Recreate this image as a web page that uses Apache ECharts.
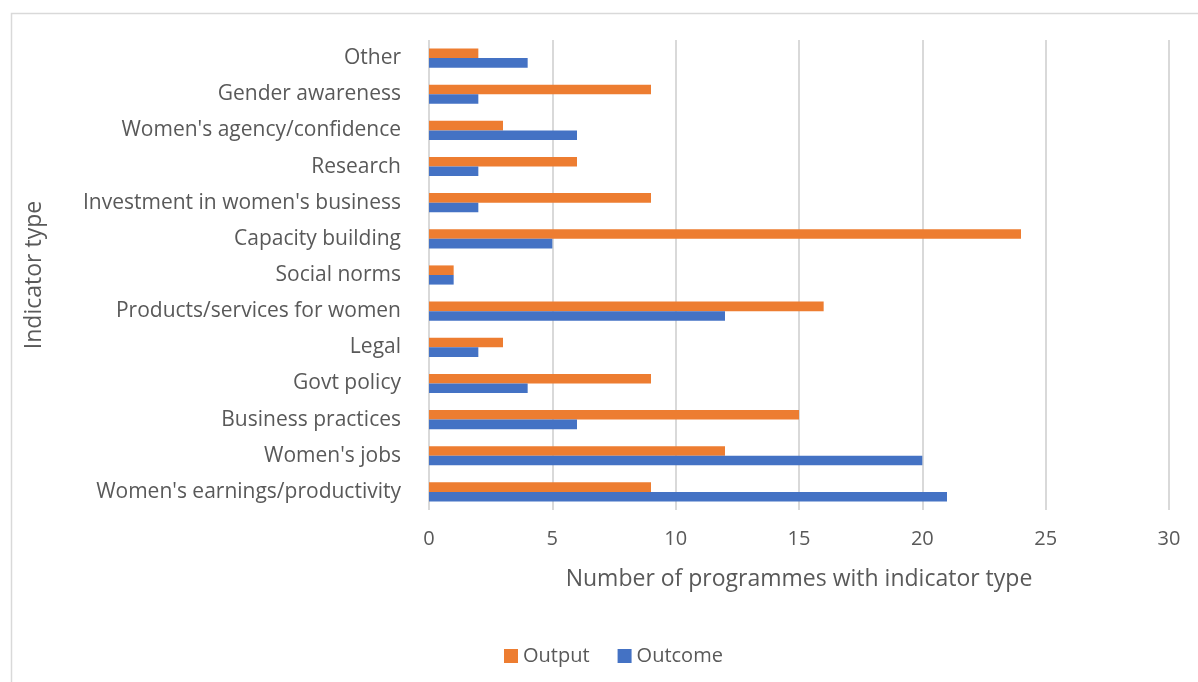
<!DOCTYPE html>
<html>
<head>
<meta charset="utf-8">
<script src="https://cdn.jsdelivr.net/npm/echarts@6/dist/echarts.min.js"></script>
<style>
  html, body { margin: 0; padding: 0; background: #fff; }
  #chart { width: 1198px; height: 682px; }
</style>
</head>
<body>
<div id="chart"></div>
<script>
// Indicator types, listed bottom to top as drawn on the category axis
const categories = [
  "Women's earnings/productivity",
  "Women's jobs",
  "Business practices",
  "Govt policy",
  "Legal",
  "Products/services for women",
  "Social norms",
  "Capacity building",
  "Investment in women's business",
  "Research",
  "Women's agency/confidence",
  "Gender awareness",
  "Other"
];
const outputValues  = [9, 12, 15, 9, 3, 16, 1, 24, 9, 6, 3, 9, 2];
const outcomeValues = [21, 20, 6, 4, 2, 12, 1, 5, 2, 2, 6, 2, 4];
const xTicks = { min: 0, max: 30, interval: 5 };

const FONT = '"Open Sans", "Noto Sans", sans-serif';
const TEXT = '#595959';
const GRID = '#D9D9D9';

const chart = echarts.init(document.getElementById('chart'), null, { renderer: 'canvas' });

chart.setOption({
  animation: false,
  textStyle: { fontFamily: FONT, color: TEXT },
  graphic: [{
    type: 'rect',
    left: 9, top: 11,
    shape: { width: 1210, height: 700 },
    style: { fill: 'none', stroke: GRID, lineWidth: 1.5 },
    silent: true
  }],
  grid: { left: 429, right: 29, top: 40, bottom: 172 },
  legend: {
    data: ['Output', 'Outcome'],
    left: 499, top: 641,
    itemWidth: 14, itemHeight: 14, itemGap: 28,
    icon: 'rect',
    textStyle: { fontFamily: FONT, fontSize: 20, color: TEXT }
  },
  xAxis: {
    type: 'value',
    min: xTicks.min, max: xTicks.max, interval: xTicks.interval,
    name: 'Number of programmes with indicator type',
    nameLocation: 'middle', nameGap: 58,
    nameTextStyle: { fontFamily: FONT, fontSize: 23, color: TEXT },
    axisLine: { show: false },
    axisTick: { show: false },
    axisLabel: { fontFamily: FONT, fontSize: 20, color: TEXT, margin: 19 },
    splitLine: { show: true, lineStyle: { color: GRID, width: 2 } }
  },
  yAxis: {
    type: 'category',
    data: categories,
    name: 'Indicator type',
    nameLocation: 'middle', nameGap: 383,
    nameTextStyle: { fontFamily: FONT, fontSize: 23, color: TEXT },
    axisLine: { show: false },
    axisTick: { show: false },
    axisLabel: { fontFamily: FONT, fontSize: 21, color: TEXT, margin: 28 },
    splitLine: { show: false }
  },
  series: [
    {
      name: 'Output', type: 'bar', data: outputValues,
      itemStyle: { color: '#ED7D31' },
      barGap: '0%', barCategoryGap: '47%'
    },
    {
      name: 'Outcome', type: 'bar', data: outcomeValues,
      itemStyle: { color: '#4472C4' },
      barGap: '0%', barCategoryGap: '47%'
    }
  ]
});
</script>
</body>
</html>
